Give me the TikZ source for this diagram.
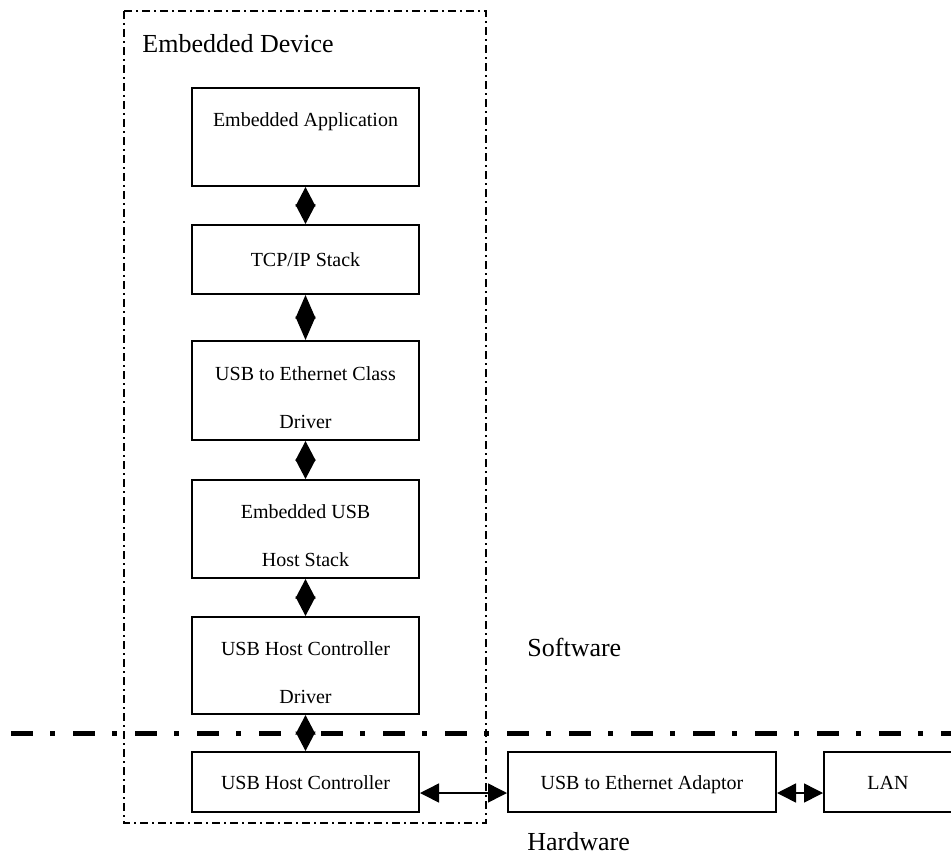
\documentclass[tikz,border=0pt]{standalone}
\usepackage{fontspec}
\setmainfont{Liberation Serif}
\usetikzlibrary{arrows.meta}
\newcommand{\boxstrut}{\rule{0pt}{14pt}}
\tikzset{
  blk/.style={draw,line width=1pt,inner sep=0pt,align=center,font=\fontsize{10}{24}\selectfont},
  one/.style={blk,text height=7pt,text depth=0pt},
  dia/.style={{Triangle[length=#1,width=10pt]}-{Triangle[length=#1,width=10pt]},line width=0.75pt},
  dia/.default=9.75pt,
  lnk/.style={{Triangle[length=9.5pt,width=9.5pt]}-{Triangle[length=9.5pt,width=9.5pt]},line width=0.75pt},
  lbl/.style={font=\fontsize{13}{15}\selectfont,inner sep=0pt,anchor=base west}
}

\begin{document}
\begin{tikzpicture}[x=0.5pt,y=-0.5pt]
\useasboundingbox (0,0) rectangle (951,855);
% device frame and software/hardware divider
\draw [line width=0.6pt,dash pattern=on 4pt off 2pt on 1pt off 2pt] (124,11) rectangle (486,823);
\draw [line width=2.5pt,dash pattern=on 11pt off 8.5pt on 2.5pt off 9pt,dash phase=25.5pt] (0,733)--(951,733);
\node [lbl] (dev) at (142,53) {Embedded Device};
\node [lbl] (sw) at (527,656) {Software};
\node [lbl] (hw) at (527,850) {Hardware};
% software stack
\node [blk,minimum width=113.5pt,minimum height=49pt] (app) at (305.5,137) {\boxstrut Embedded Application\\\mbox{}};
\node [one,minimum width=113.5pt,minimum height=34.5pt] (tcp) at (305.5,259.5) {TCP/IP Stack};
\node [blk,minimum width=113.5pt,minimum height=49.5pt] (cls) at (305.5,390.5) {\boxstrut USB to Ethernet Class\\Driver};
\node [blk,minimum width=113.5pt,minimum height=49pt] (hst) at (305.5,529) {\boxstrut Embedded USB\\Host Stack};
\node [blk,minimum width=113.5pt,minimum height=48.5pt] (hcd) at (305.5,665.5) {\boxstrut USB Host Controller\\Driver};
% hardware
\node [one,minimum width=113.5pt,minimum height=30pt] (hc) at (305.5,782) {USB Host Controller};
\node [one,minimum width=134pt,minimum height=30pt] (adp) at (642,782) {USB to Ethernet Adaptor};
\node [one,minimum width=64pt,minimum height=30pt] (lan) at (888,782) {LAN};
\draw [dia] (app.south)--(tcp.north);
\draw [dia=11.75pt] (tcp.south)--(cls.north);
\draw [dia] (cls.south)--(hst.north);
\draw [dia] (hst.south)--(hcd.north);
\draw [dia] (hcd.south)--(hc.north);
\draw [lnk] ([yshift=-5.5pt]hc.east)--([yshift=-5.5pt]adp.west);
\draw [lnk] ([yshift=-5.5pt]adp.east)--([yshift=-5.5pt]lan.west);
\end{tikzpicture}
\end{document}
